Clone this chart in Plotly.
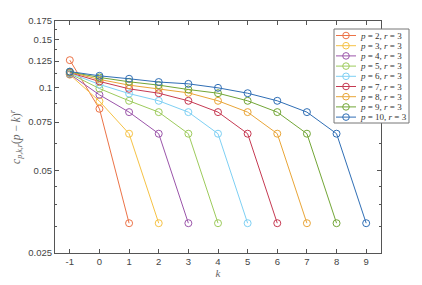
import math
import plotly.graph_objects as go

ps = [2, 3, 4, 5, 6, 7, 8, 9, 10]
r_val = 3
values = {
    2: [0.126, 0.0838, 0.0321],
    3: [0.1115, 0.0893, 0.068, 0.0321],
    4: [0.112, 0.0942, 0.0815, 0.068, 0.0321],
    5: [0.1125, 0.0993, 0.0896, 0.0815, 0.068, 0.0321],
    6: [0.113, 0.1028, 0.0952, 0.0896, 0.0815, 0.068, 0.0321],
    7: [0.1135, 0.1054, 0.0991, 0.0955, 0.0896, 0.0815, 0.068, 0.0321],
    8: [0.114, 0.1072, 0.1022, 0.0991, 0.0958, 0.0896, 0.0815, 0.068, 0.0321],
    9: [0.1142, 0.109, 0.1051, 0.1022, 0.0985, 0.0955, 0.0896, 0.0815, 0.068, 0.0321],
    10: [0.1145, 0.1105, 0.1078, 0.1049, 0.1033, 0.0999, 0.0955, 0.0896, 0.0815, 0.068, 0.0321],
}
colors = ["#EC7347", "#F6C245", "#9B55AA", "#9DCB5C", "#7ED0F4",
          "#C63A52", "#E9A537", "#72A636", "#2F6EB5"]
x_ticks = list(range(-1, 10))
x_tick_labels = [str(v) for v in x_ticks]
y_ticks = [0.025, 0.05, 0.075, 0.1, 0.125, 0.15, 0.175]
y_tick_labels = ["0.025", "0.05", "0.075", "0.1", "0.125", "0.15", "0.175"]
y_minor = [0.03125, 0.0375, 0.04375, 0.0625, 0.0875, 0.1125, 0.1375, 0.1625]

# page has an 8px body margin: compensate so the screenshot matches
OFF = 8
W, H = 422 - OFF, 285 - OFF
ML, MR, MT, MB = 55 - OFF, 41, 21 - OFF, 32
PW, PH = W - ML - MR, H - MT - MB


def px(xs):
    # screen pixel -> paper x
    return (xs - OFF - ML) / PW


def py(ys):
    # screen pixel -> paper y
    return (H - MB - (ys - OFF)) / PH


fig = go.Figure()
for p, c in zip(ps, colors):
    ys = values[p]
    ks = list(range(-1, -1 + len(ys)))
    fig.add_trace(go.Scatter(
        x=ks, y=ys, mode="lines+markers",
        name=f"<i>p</i> = {p}, <i>r</i> = {r_val}",
        line=dict(color=c, width=1),
        marker=dict(symbol="circle-open", size=7, color=c, line=dict(width=1, color=c)),
        showlegend=False,
    ))

axis_common = dict(
    showgrid=False, zeroline=False, showline=True, linecolor="#555", linewidth=1,
    mirror="ticks", ticks="inside", ticklen=4, tickcolor="#555", automargin=False,
    tickfont=dict(family="Liberation Sans, Arial, sans-serif", size=9.5, color="#444"),
)
fig.update_xaxes(range=[-1.5, 9.5], tickvals=x_ticks, ticktext=x_tick_labels,
                 title=dict(text="<i>k</i>", font=dict(family="Liberation Serif, serif", size=11, color="#666"), standoff=0),
                 **axis_common)
fig.update_yaxes(type="log", range=[math.log10(0.025), math.log10(0.175)],
                 tickvals=y_ticks, ticktext=y_tick_labels,
                 minor=dict(tickvals=y_minor, ticks="inside", ticklen=2, tickcolor="#555"),
                 title=dict(text="<i>c</i><sub><i>p,k,r</i></sub>(<i>p</i> − <i>k</i>)<sup><i>r</i></sup>",
                            font=dict(family="Liberation Serif, serif", size=11.5, color="#666"), standoff=12),
                 **axis_common)

# custom compact legend (box, sample lines, circles, labels)
shapes = [dict(type="rect", xref="paper", yref="paper",
               x0=px(334), x1=px(409), y0=py(123), y1=py(29),
               line=dict(color="#777", width=1), fillcolor="white", layer="above")]
annotations = []
y0_leg, dy_leg = 35.5, 10.2
for i, (p, c) in enumerate(zip(ps, colors)):
    yy = py(y0_leg + i * dy_leg)
    shapes.append(dict(type="line", xref="paper", yref="paper",
                       x0=px(336), x1=px(356), y0=yy, y1=yy,
                       line=dict(color=c, width=1), layer="above"))
    shapes.append(dict(type="circle", xref="paper", yref="paper",
                       xsizemode="pixel", ysizemode="pixel",
                       xanchor=px(346), yanchor=yy, x0=-3.3, x1=3.3, y0=-3.3, y1=3.3,
                       line=dict(color=c, width=1), fillcolor="rgba(0,0,0,0)", layer="above"))
    annotations.append(dict(xref="paper", yref="paper", x=px(357.5), y=yy,
                            xanchor="left", yanchor="middle", showarrow=False,
                            text=f"<i>p</i> = {p}, <i>r</i> = {r_val}",
                            font=dict(family="Liberation Serif, serif", size=9, color="#333")))

fig.update_layout(
    width=W, height=H,
    margin=dict(l=ML, r=MR, t=MT, b=MB),
    plot_bgcolor="white", paper_bgcolor="white",
    showlegend=False,
    shapes=shapes, annotations=annotations,
)
fig.write_html("out.html")
